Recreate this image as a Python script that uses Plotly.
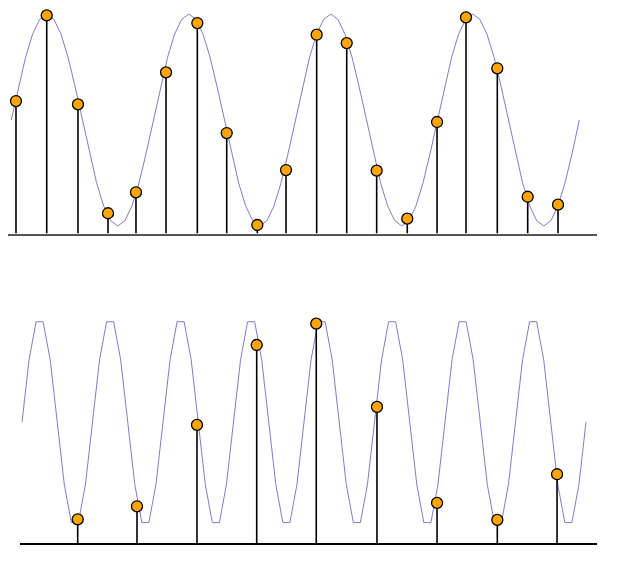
import plotly.graph_objects as go

W, H = 617, 572
OFF = 8  # page body margin of the html page

# ---- data: top panel (slow sine, densely sampled stems) ----
top_curve_y = [
    0.0, 0.31, 0.59, 0.81, 0.95, 1.0, 0.95, 0.81, 0.59, 0.31,
    0.0, -0.31, -0.59, -0.81, -0.95, -1.0, -0.95, -0.81, -0.59, -0.31,
    0.0, 0.31, 0.59, 0.81, 0.95, 1.0, 0.95, 0.81, 0.59, 0.31,
    0.0, -0.31, -0.59, -0.81, -0.95, -1.0, -0.95, -0.81, -0.59, -0.31,
    0.0, 0.31, 0.59, 0.81, 0.95, 1.0, 0.95, 0.81, 0.59, 0.31,
    0.0, -0.31, -0.59, -0.81, -0.95, -1.0, -0.95, -0.81, -0.59, -0.31,
    0.0, 0.31, 0.59, 0.81, 0.95, 1.0, 0.95, 0.81, 0.59, 0.31,
    0.0, -0.31, -0.59, -0.81, -0.95, -1.0, -0.95, -0.81, -0.59, -0.31,
    0.0,
]
top_stem_x = [0.66, 4.99, 9.39, 13.62, 17.56, 21.79, 26.2, 30.34, 34.65, 38.69,
              43.01, 47.24, 51.46, 55.77, 59.96, 64.04, 68.45, 72.73, 77.0]
top_stem_y = [0.179, 0.988, 0.148, -0.880, -0.682, 0.450, 0.915, -0.123, -0.991, -0.472,
              0.805, 0.726, -0.478, -0.931, -0.019, 0.969, 0.488, -0.724, -0.799]

# ---- data: bottom panel (fast sine, sparsely sampled stems) ----
bot_curve_y = [
    0.0, 0.59, 0.95, 0.95, 0.59, 0.0, -0.59, -0.95, -0.95, -0.59,
    0.0, 0.59, 0.95, 0.95, 0.59, 0.0, -0.59, -0.95, -0.95, -0.59,
    0.0, 0.59, 0.95, 0.95, 0.59, 0.0, -0.59, -0.95, -0.95, -0.59,
    0.0, 0.59, 0.95, 0.95, 0.59, 0.0, -0.59, -0.95, -0.95, -0.59,
    0.0, 0.59, 0.95, 0.95, 0.59, 0.0, -0.59, -0.95, -0.95, -0.59,
    0.0, 0.59, 0.95, 0.95, 0.59, 0.0, -0.59, -0.95, -0.95, -0.59,
    0.0, 0.59, 0.95, 0.95, 0.59, 0.0, -0.59, -0.95, -0.95, -0.59,
    0.0, 0.59, 0.95, 0.95, 0.59, 0.0, -0.59, -0.95, -0.95, -0.59,
    0.0,
]
bot_stem_x = [7.90, 16.31, 24.82, 33.29, 41.74, 50.35, 58.87, 67.42, 75.89]
bot_stem_y = [-0.919, -0.796, -0.026, 0.730, 0.932, 0.144, -0.764, -0.925, -0.493]

curve_x = list(range(len(top_curve_y)))

TOP_YR = [-1.071, 1.057]
BOT_YR = [-1.146, 1.146]

CURVE_COLOR = "#5a5ac0"
MARKER_COLOR = "#FFA500"


def stems(xs, ys, base):
    sx, sy = [], []
    for x, y in zip(xs, ys):
        sx += [x, x, None]
        sy += [base, y, None]
    return sx, sy


fig = go.Figure()

# top panel
fig.add_trace(go.Scatter(x=curve_x, y=top_curve_y, mode="lines",
                         line=dict(color=CURVE_COLOR, width=0.8),
                         xaxis="x", yaxis="y", hoverinfo="skip"))
sx, sy = stems(top_stem_x, top_stem_y, TOP_YR[0])
fig.add_trace(go.Scatter(x=sx, y=sy, mode="lines",
                         line=dict(color="black", width=1.6),
                         xaxis="x", yaxis="y", hoverinfo="skip"))
fig.add_trace(go.Scatter(x=top_stem_x, y=top_stem_y, mode="markers",
                         marker=dict(size=11, color=MARKER_COLOR,
                                     line=dict(color="black", width=1.3)),
                         xaxis="x", yaxis="y"))

# bottom panel
bot_curve_x = list(range(len(bot_curve_y)))
fig.add_trace(go.Scatter(x=bot_curve_x, y=bot_curve_y, mode="lines",
                         line=dict(color=CURVE_COLOR, width=0.8),
                         xaxis="x2", yaxis="y2", hoverinfo="skip"))
sx, sy = stems(bot_stem_x, bot_stem_y, BOT_YR[0])
fig.add_trace(go.Scatter(x=sx, y=sy, mode="lines",
                         line=dict(color="black", width=1.6),
                         xaxis="x2", yaxis="y2", hoverinfo="skip"))
fig.add_trace(go.Scatter(x=bot_stem_x, y=bot_stem_y, mode="markers",
                         marker=dict(size=11, color=MARKER_COLOR,
                                     line=dict(color="black", width=1.3)),
                         xaxis="x2", yaxis="y2"))


def fx(px):
    return max(0.0, (px - OFF) / W)


def fy(py):
    return min(1.0, 1 - (py - OFF) / H)


hidden = dict(showgrid=False, zeroline=False, showticklabels=False, ticks="")

fig.update_layout(
    width=W, height=H,
    margin=dict(l=0, r=0, t=0, b=0),
    paper_bgcolor="white", plot_bgcolor="white",
    showlegend=False,
    xaxis=dict(domain=[fx(8), fx(597)], range=[-0.465, 82.49], anchor="y",
               showline=True, linecolor="#555555", linewidth=2, **hidden),
    yaxis=dict(domain=[fy(233.5), fy(8)], range=TOP_YR, anchor="x",
               showline=False, **hidden),
    xaxis2=dict(domain=[fx(20), fx(597)], range=[-0.284, 81.56], anchor="y2",
                showline=True, linecolor="black", linewidth=1.5, **hidden),
    yaxis2=dict(domain=[fy(543.3), fy(301)], range=BOT_YR, anchor="x2",
                showline=False, **hidden),
)

fig.write_html("out.html")
